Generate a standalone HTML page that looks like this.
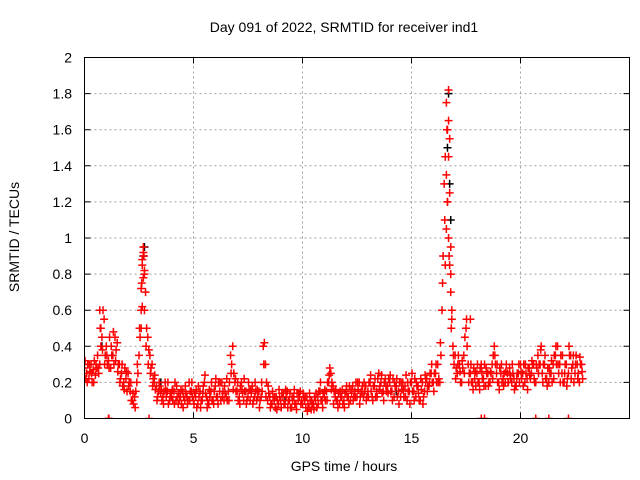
<!DOCTYPE html>
<html><head><meta charset="utf-8"><style>
body{margin:0;background:#fff;}
svg{display:block;font-family:"Liberation Sans",sans-serif;}
</style></head><body>
<svg id="chart" width="640" height="480" viewBox="0 0 640 480">
<rect width="640" height="480" fill="#fff"/>
<text x="344" y="32" font-size="14" text-anchor="middle" fill="#000">Day 091 of 2022, SRMTID for receiver ind1</text>
<text x="344" y="471" font-size="14" text-anchor="middle" fill="#000">GPS time / hours</text>
<text transform="translate(19,237) rotate(-90)" font-size="14" text-anchor="middle" fill="#000">SRMTID / TECUs</text>
<g id="grid"></g>
<g id="ticks"></g>
<clipPath id="clip"><rect x="84" y="56" width="546" height="363"/></clipPath>
<g id="marks" clip-path="url(#clip)"></g>
<rect x="84.5" y="57.5" width="545" height="361" fill="none" stroke="#000" stroke-width="1"/>
</svg>
<script>
const xTicks=[0,5,10,15,20];
const yTicks=[0,0.2,0.4,0.6,0.8,1,1.2,1.4,1.6,1.8,2];
const yTickLabels=["0","0.2","0.4","0.6","0.8","1","1.2","1.4","1.6","1.8","2"];
const startHour=0, stepHours=0.1;
const srmtid=[0.28,0.25,0.22,0.3,0.27,0.24,0.35,0.3,0.45,0.55,
0.4,0.32,0.28,0.35,0.45,0.42,0.3,0.25,0.2,0.22,
0.25,0.15,0.1,0.12,0.2,0.35,0.6,0.95,0.7,0.45,
0.35,0.3,0.2,0.18,0.15,0.14,0.12,0.2,0.15,0.1,
0.12,0.15,0.1,0.08,0.12,0.15,0.1,0.12,0.2,0.15,
0.1,0.12,0.08,0.15,0.1,0.2,0.12,0.08,0.15,0.1,
0.18,0.12,0.15,0.2,0.1,0.12,0.15,0.35,0.4,0.2,
0.15,0.12,0.2,0.1,0.15,0.12,0.1,0.18,0.12,0.1,
0.15,0.12,0.4,0.3,0.1,0.12,0.08,0.1,0.12,0.08,
0.1,0.12,0.08,0.15,0.1,0.06,0.12,0.08,0.1,0.15,
0.08,0.1,0.12,0.06,0.05,0.08,0.1,0.12,0.15,0.1,
0.12,0.15,0.2,0.25,0.18,0.12,0.1,0.08,0.12,0.1,
0.15,0.12,0.1,0.18,0.15,0.12,0.2,0.15,0.12,0.18,
0.15,0.2,0.12,0.18,0.15,0.25,0.2,0.15,0.22,0.18,
0.2,0.15,0.12,0.18,0.15,0.12,0.2,0.18,0.1,0.15,
0.2,0.15,0.12,0.18,0.1,0.2,0.15,0.22,0.18,0.25,
0.2,0.25,0.3,0.2,0.6,1.3,1.75,1.0,0.7,0.4,
0.35,0.25,0.3,0.2,0.35,0.5,0.3,0.25,0.2,0.22,
0.25,0.2,0.3,0.22,0.18,0.25,0.2,0.3,0.4,0.25,
0.2,0.25,0.22,0.2,0.25,0.28,0.2,0.22,0.18,0.25,
0.3,0.25,0.2,0.22,0.28,0.25,0.3,0.2,0.35,0.3,
0.25,0.3,0.22,0.2,0.25,0.3,0.35,0.4,0.3,0.25,
0.2,0.3,0.25,0.35,0.3,0.25,0.3,0.2,0.3];
const srmtidB=[0.22,0.3,0.26,0.2,0.32,0.28,0.25,0.4,0.6,0.35,
0.3,0.45,0.35,0.3,0.38,0.3,0.22,0.18,0.28,0.15,
0.2,0.1,0.08,0.15,0.25,0.45,0.85,0.8,0.5,0.38,
0.28,0.22,0.16,0.12,0.18,0.1,0.15,0.12,0.08,0.14,
0.1,0.2,0.12,0.1,0.08,0.12,0.14,0.1,0.15,0.12,
0.14,0.06,0.12,0.1,0.18,0.14,0.1,0.12,0.1,0.15,
0.12,0.2,0.1,0.15,0.14,0.1,0.2,0.3,0.25,0.15,
0.1,0.18,0.14,0.15,0.1,0.16,0.14,0.1,0.15,0.12,
0.1,0.15,0.42,0.2,0.14,0.08,0.12,0.06,0.1,0.12,
0.14,0.08,0.12,0.1,0.06,0.1,0.08,0.14,0.12,0.1,
0.12,0.06,0.08,0.1,0.08,0.12,0.06,0.15,0.1,0.14,
0.1,0.2,0.28,0.2,0.15,0.1,0.14,0.12,0.08,0.14,
0.12,0.18,0.14,0.12,0.2,0.16,0.12,0.18,0.15,0.12,
0.2,0.15,0.18,0.12,0.22,0.18,0.14,0.2,0.15,0.22,
0.15,0.22,0.18,0.12,0.2,0.16,0.12,0.24,0.15,0.2,
0.15,0.22,0.18,0.1,0.16,0.12,0.2,0.18,0.25,0.2,
0.25,0.2,0.22,0.35,0.9,1.45,1.2,0.85,0.55,0.3,
0.28,0.35,0.2,0.28,0.45,0.4,0.25,0.2,0.28,0.18,
0.2,0.28,0.22,0.3,0.25,0.2,0.25,0.35,0.3,0.2,
0.28,0.2,0.25,0.3,0.2,0.22,0.25,0.18,0.25,0.2,
0.22,0.3,0.25,0.28,0.22,0.3,0.2,0.28,0.3,0.4,
0.3,0.22,0.28,0.25,0.2,0.35,0.3,0.25,0.35,0.2,
0.3,0.22,0.35,0.28,0.2,0.35,0.25,0.3,0.22];
const srmtidC=[0.32,0.2,0.3,0.25,0.2,0.3,0.28,0.5,0.38,0.3,
0.35,0.28,0.4,0.48,0.32,0.26,0.2,0.3,0.16,0.26,
0.18,0.2,0.14,0.06,0.3,0.5,0.75,0.9,0.4,0.3,
0.25,0.18,0.24,0.1,0.2,0.16,0.08,0.16,0.2,0.12,
0.16,0.08,0.18,0.14,0.16,0.06,0.18,0.08,0.1,0.2,
0.08,0.16,0.18,0.06,0.14,0.24,0.06,0.16,0.2,0.08,
0.22,0.08,0.2,0.12,0.18,0.22,0.1,0.25,0.16,0.22,
0.2,0.08,0.16,0.22,0.08,0.2,0.16,0.08,0.2,0.16,
0.06,0.2,0.3,0.12,0.18,0.06,0.15,0.12,0.05,0.16,
0.06,0.14,0.16,0.06,0.14,0.12,0.16,0.05,0.14,0.08,
0.14,0.12,0.04,0.14,0.1,0.05,0.14,0.08,0.2,0.06,
0.16,0.1,0.24,0.16,0.08,0.16,0.06,0.15,0.16,0.06,
0.18,0.08,0.16,0.1,0.12,0.2,0.08,0.14,0.2,0.1,
0.12,0.24,0.1,0.22,0.12,0.16,0.24,0.1,0.18,0.14,
0.24,0.1,0.2,0.22,0.08,0.2,0.16,0.12,0.2,0.08,
0.25,0.1,0.2,0.14,0.22,0.08,0.24,0.15,0.2,0.3,
0.15,0.3,0.2,0.42,0.75,1.1,1.6,0.9,0.5,0.35,
0.22,0.3,0.26,0.32,0.25,0.55,0.2,0.3,0.16,0.26,
0.3,0.16,0.26,0.18,0.28,0.18,0.26,0.22,0.35,0.3,
0.16,0.3,0.18,0.26,0.2,0.24,0.3,0.16,0.22,0.3,
0.26,0.18,0.3,0.16,0.24,0.32,0.22,0.3,0.25,0.38,
0.2,0.35,0.18,0.28,0.32,0.22,0.4,0.3,0.2,0.35,
0.25,0.18,0.4,0.22,0.35,0.3,0.22,0.34,0.26];
const spikeHours=[2.6,2.6,2.65,2.65,2.7,2.7,2.75,2.75,16.55,16.6,16.6,16.65,16.65,16.7,16.7,16.7,16.75,16.75,16.8,16.8,16.85,0.7,0.75,17.7,1.1,1.12,2.96,18.2,18.35,20.7,21.3,22.2];
const spikeValues=[0.5,0.72,0.62,0.88,0.78,0.92,0.6,0.82,0.85,1.05,1.35,1.2,1.6,1.45,1.65,1.82,1.25,1.55,0.95,0.8,0.6,0.6,0.5,0.55,0,0,0,0,0,0,0,0];
const blackHours=[16.7,16.75,16.65,2.7,2.75,16.8,0.8,3.5,9.2,14.3];
const blackValues=[1.8,1.3,1.5,0.9,0.95,1.1,0.4,0.2,0.1,0.15];

const NS='http://www.w3.org/2000/svg';
const X0=84.5,X1=629.5,Y0=418.5,Y1=57.5,XMAX=25,YMAX=2;
function sx(h){return X0+h/XMAX*(X1-X0);}
function sy(v){return Y0-v/YMAX*(Y0-Y1);}
const grid=document.getElementById('grid'),ticks=document.getElementById('ticks'),marks=document.getElementById('marks');
function mk(tag,attrs,parent){const e=document.createElementNS(NS,tag);for(const k in attrs)e.setAttribute(k,attrs[k]);parent.appendChild(e);return e;}
xTicks.forEach(t=>{
  const x=sx(t);
  if(t>0){const g=mk('line',{x1:x,x2:x,y1:Y0,y2:Y1,stroke:'#a0a0a0','stroke-dasharray':'2,3'},grid);
  
  }
  const tk=mk('path',{d:`M${x},${Y0}v-6M${x},${Y1}v6`,stroke:'#000'},ticks);
  
  
  const l=mk('text',{x:x,y:443,'font-size':14,'text-anchor':'middle',fill:'#000'},ticks);
  l.textContent=t;
  
  
});
yTicks.forEach((t,i)=>{
  const y=sy(t);
  if(t>0&&t<YMAX){const g=mk('line',{x1:X0,x2:X1,y1:y,y2:y,stroke:'#a0a0a0','stroke-dasharray':'2,3'},grid);
  
  }
  const tk=mk('path',{d:`M${X0},${y}h6M${X1},${y}h-6`,stroke:'#000'},ticks);
  
  
  const l=mk('text',{x:72,y:y+5,'font-size':14,'text-anchor':'end',fill:'#000'},ticks);
  l.textContent=yTickLabels[i];
  
  
});
function plus(h,v,color){
  const x=sx(h),y=sy(v);
  const p=mk('path',{d:`M${x-4},${y}h8M${x},${y-4}v8`,stroke:color,'stroke-width':1.5,fill:'none'},marks);
  
  
}
blackHours.forEach((h,i)=>plus(h,blackValues[i],'#000'));
srmtid.forEach((v,i)=>plus(startHour+i*stepHours,v,'#ff0000'));
srmtidB.forEach((v,i)=>plus(startHour+i*stepHours+0.05,v,'#ff0000'));
srmtidC.forEach((v,i)=>plus(startHour+i*stepHours+0.025,v,'#ff0000'));
spikeHours.forEach((h,i)=>plus(h,spikeValues[i],'#ff0000'));
</script>
</body></html>
